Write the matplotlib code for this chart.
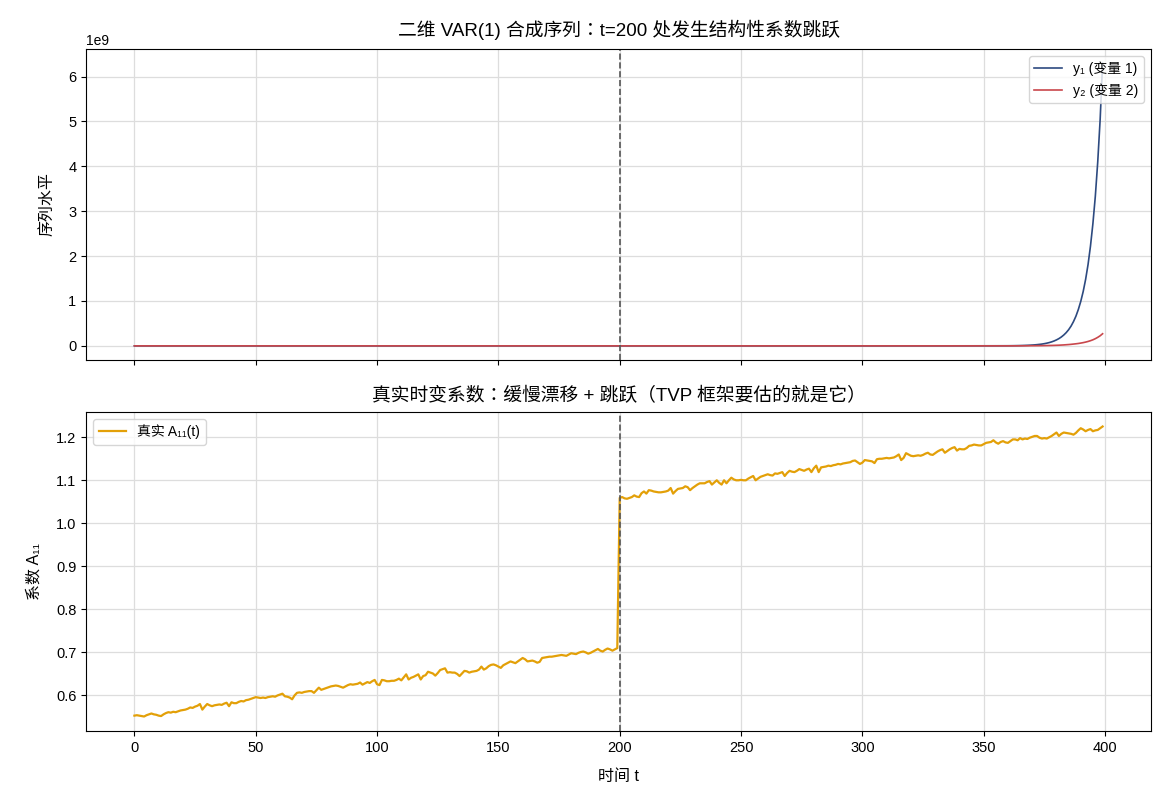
import matplotlib
matplotlib.use("Agg")
import matplotlib.pyplot as plt
import numpy as np

plt.rcParams['font.family'] = ['Liberation Sans', 'Noto Sans CJK TC', 'DejaVu Sans']
plt.rcParams['axes.unicode_minus'] = False

# ---------------- data ----------------
# top panel: series levels (sparse in flat part, dense where visible growth happens)
t_top = [0, 50, 100, 150, 200, 250, 300, 330, 345, 355,
         360, 361, 362, 363, 364, 365, 366, 367, 368, 369,
         370, 371, 372, 373, 374, 375, 376, 377, 378, 379,
         380, 381, 382, 383, 384, 385, 386, 387, 388, 389,
         390, 391, 392, 393, 394, 395, 396, 397, 398, 399]
y1_vals = [1.0, 2.0e1, 1.0e2, 5.0e2, 3.0e3, 2.0e4, 1.5e5, 4.0e5, 9.0e5, 1.7e6,
           2.4e6, 3.0e6, 3.6e6, 4.4e6, 5.4e6, 6.6e6, 8.1e6, 9.9e6, 1.21e7, 1.48e7,
           1.8e7, 2.2e7, 2.7e7, 3.3e7, 4.0e7, 4.9e7, 6.0e7, 7.3e7, 8.9e7, 1.09e8,
           1.33e8, 1.62e8, 1.98e8, 2.42e8, 2.95e8, 3.6e8, 4.4e8, 5.4e8, 6.6e8, 8.1e8,
           9.9e8, 1.21e9, 1.48e9, 1.81e9, 2.22e9, 2.72e9, 3.33e9, 4.10e9, 5.05e9, 6.30e9]
y2_vals = [1.0, 1.0e1, 1.0e2, 1.0e3, 1.0e4, 5.0e4, 1.0e5, 2.0e5, 2.5e5, 3.0e5,
           4.0e5, 5.0e5, 6.0e5, 7.0e5, 8.0e5, 1.0e6, 1.3e6, 1.6e6, 1.9e6, 2.3e6,
           2.7e6, 3.2e6, 3.7e6, 4.3e6, 5.0e6, 6.0e6, 7.0e6, 8.2e6, 9.5e6, 1.1e7,
           1.3e7, 1.5e7, 1.8e7, 2.1e7, 2.5e7, 2.9e7, 3.4e7, 4.0e7, 4.6e7, 5.3e7,
           6.2e7, 7.2e7, 8.4e7, 9.8e7, 1.15e8, 1.35e8, 1.60e8, 1.90e8, 2.25e8, 2.70e8]

# bottom panel: true time-varying coefficient A11(t), t = 0..399
a11 = [
    0.553, 0.554, 0.553, 0.552, 0.551, 0.554, 0.556, 0.558, 0.556, 0.555,
    0.553, 0.552, 0.556, 0.559, 0.561, 0.560, 0.562, 0.561, 0.563, 0.565,
    0.566, 0.567, 0.569, 0.572, 0.571, 0.574, 0.576, 0.580, 0.567, 0.574,
    0.580, 0.577, 0.575, 0.577, 0.578, 0.579, 0.578, 0.581, 0.583, 0.575,
    0.584, 0.582, 0.582, 0.585, 0.587, 0.586, 0.589, 0.590, 0.592, 0.594,
    0.596, 0.595, 0.594, 0.595, 0.594, 0.596, 0.597, 0.598, 0.597, 0.600,
    0.602, 0.604, 0.598, 0.597, 0.595, 0.591, 0.600, 0.606, 0.607, 0.606,
    0.608, 0.609, 0.610, 0.610, 0.606, 0.612, 0.618, 0.613, 0.615, 0.617,
    0.619, 0.621, 0.622, 0.623, 0.622, 0.620, 0.618, 0.621, 0.624, 0.626,
    0.625, 0.626, 0.627, 0.630, 0.625, 0.628, 0.631, 0.629, 0.633, 0.636,
    0.626, 0.624, 0.636, 0.635, 0.633, 0.633, 0.634, 0.634, 0.636, 0.639,
    0.635, 0.642, 0.649, 0.637, 0.641, 0.643, 0.646, 0.649, 0.637, 0.645,
    0.647, 0.655, 0.653, 0.651, 0.646, 0.652, 0.659, 0.661, 0.663, 0.653,
    0.654, 0.653, 0.653, 0.650, 0.645, 0.651, 0.657, 0.656, 0.653, 0.655,
    0.656, 0.657, 0.660, 0.667, 0.660, 0.663, 0.668, 0.671, 0.672, 0.670,
    0.667, 0.664, 0.670, 0.673, 0.676, 0.679, 0.677, 0.675, 0.679, 0.683,
    0.687, 0.684, 0.679, 0.680, 0.681, 0.679, 0.676, 0.678, 0.687, 0.688,
    0.689, 0.690, 0.690, 0.691, 0.692, 0.693, 0.694, 0.693, 0.692, 0.695,
    0.698, 0.697, 0.696, 0.699, 0.701, 0.702, 0.700, 0.697, 0.699, 0.702,
    0.705, 0.708, 0.704, 0.702, 0.706, 0.709, 0.707, 0.704, 0.707, 0.710,
    1.059, 1.061, 1.058, 1.057, 1.059, 1.061, 1.065, 1.062, 1.061, 1.070,
    1.074, 1.069, 1.077, 1.076, 1.074, 1.073, 1.072, 1.072, 1.073, 1.074,
    1.076, 1.082, 1.069, 1.075, 1.080, 1.081, 1.082, 1.086, 1.084, 1.077,
    1.082, 1.086, 1.090, 1.093, 1.093, 1.093, 1.096, 1.098, 1.090, 1.095,
    1.100, 1.094, 1.090, 1.100, 1.093, 1.100, 1.106, 1.102, 1.100, 1.100,
    1.101, 1.100, 1.100, 1.104, 1.107, 1.110, 1.100, 1.104, 1.108, 1.110,
    1.112, 1.114, 1.112, 1.111, 1.116, 1.115, 1.117, 1.119, 1.110, 1.117,
    1.122, 1.120, 1.119, 1.122, 1.126, 1.124, 1.122, 1.125, 1.127, 1.119,
    1.128, 1.134, 1.119, 1.130, 1.131, 1.132, 1.134, 1.133, 1.135, 1.136,
    1.138, 1.137, 1.139, 1.140, 1.141, 1.142, 1.145, 1.146, 1.142, 1.138,
    1.141, 1.147, 1.146, 1.145, 1.144, 1.140, 1.149, 1.150, 1.150, 1.151,
    1.152, 1.151, 1.152, 1.153, 1.156, 1.160, 1.147, 1.152, 1.163, 1.160,
    1.157, 1.156, 1.157, 1.158, 1.157, 1.159, 1.162, 1.164, 1.160, 1.159,
    1.163, 1.167, 1.170, 1.172, 1.164, 1.168, 1.172, 1.175, 1.177, 1.169,
    1.173, 1.172, 1.172, 1.175, 1.180, 1.181, 1.183, 1.182, 1.181, 1.181,
    1.184, 1.187, 1.188, 1.189, 1.193, 1.188, 1.185, 1.189, 1.191, 1.188,
    1.187, 1.191, 1.195, 1.195, 1.193, 1.198, 1.195, 1.197, 1.196, 1.199,
    1.201, 1.203, 1.203, 1.199, 1.197, 1.198, 1.197, 1.200, 1.203, 1.207,
    1.211, 1.203, 1.208, 1.211, 1.210, 1.209, 1.208, 1.206, 1.210, 1.216,
    1.221, 1.218, 1.214, 1.217, 1.219, 1.214, 1.216, 1.217, 1.221, 1.225,
]
t_bottom = np.arange(len(a11))
break_t = 200

title_top = "二维 VAR(1) 合成序列：t=200 处发生结构性系数跳跃"
title_bottom = "真实时变系数：缓慢漂移 + 跳跃（TVP 框架要估的就是它）"
label_y1 = "y₁ (变量 1)"
label_y2 = "y₂ (变量 2)"
label_a11 = "真实 A₁₁(t)"

c_blue = "#2d4a80"
c_red = "#c9474c"
c_orange = "#e3a008"

# ---------------- figure ----------------
fig = plt.figure(figsize=(11.7, 8.06), dpi=100)
ax1 = fig.add_axes([86 / 1170, 1 - 360 / 806, 1065 / 1170, 311 / 806])
ax2 = fig.add_axes([86 / 1170, 1 - 731 / 806, 1065 / 1170, 319 / 806], sharex=ax1)

ax1.plot(t_top, y1_vals, color=c_blue, lw=1.2, label=label_y1)
ax1.plot(t_top, y2_vals, color=c_red, lw=1.2, label=label_y2)
ax1.axvline(break_t, color="#555555", ls="--", lw=1.2)
ax1.set_title(title_top, fontsize=13.5, pad=9)
ax1.set_ylabel("序列水平", fontsize=11.5, labelpad=10)
ax1.grid(True, color="#dddddd", lw=0.9)
ax1.set_axisbelow(True)
ax1.tick_params(labelbottom=False, labelsize=10.5)
ax1.legend(loc="upper right", fontsize=10, framealpha=0.8)

ax2.plot(t_bottom, a11, color=c_orange, lw=1.6, label=label_a11)
ax2.axvline(break_t, color="#555555", ls="--", lw=1.2)
ax2.set_title(title_bottom, fontsize=13.5, pad=8)
ax2.set_ylabel("系数 A₁₁", fontsize=11.5, labelpad=10)
ax2.set_xlabel("时间 t", fontsize=11.5, labelpad=10)
ax2.grid(True, color="#dddddd", lw=0.9)
ax2.set_axisbelow(True)
ax2.tick_params(labelsize=10.5)
ax2.legend(loc="upper left", fontsize=10, framealpha=0.8)

fig.savefig("out.png", dpi=100)
